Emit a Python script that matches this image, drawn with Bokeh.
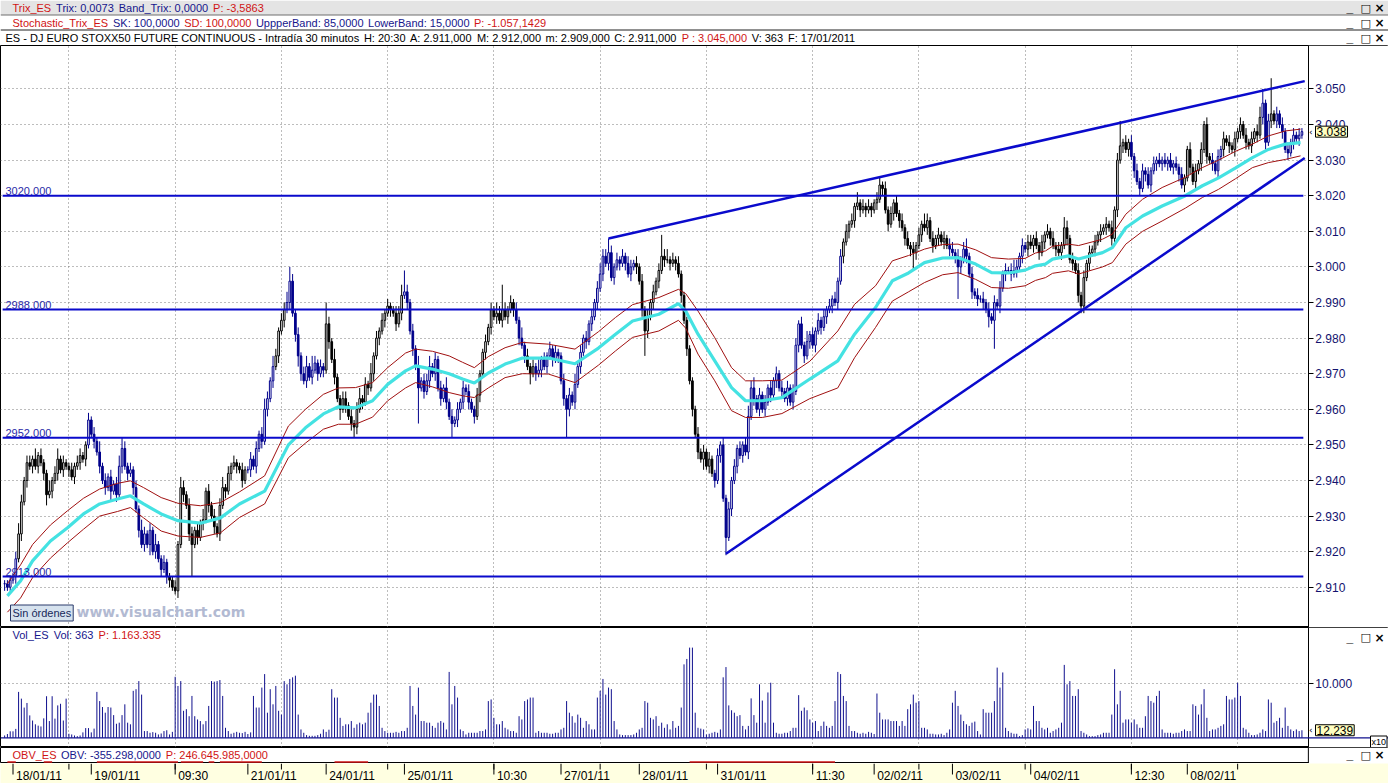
from bokeh.plotting import figure
from bokeh.models import Range1d, FixedTicker, Label, Span, ColumnDataSource, LinearAxis, BoxAnnotation
from bokeh.layouts import column
from bokeh.embed import file_html
from bokeh.resources import INLINE
from bokeh.core.properties import value

# ============================ DATA ============================
first_open = 2911
# 30-minute closes per session
close_17jan = [2911, 2910, 2912]
close_18jan = [2913, 2918, 2925, 2934, 2940, 2945, 2944, 2946, 2944, 2947, 2945, 2942, 2936, 2937,
               2940, 2942, 2946, 2943, 2945, 2944, 2943, 2941, 2944, 2945, 2947, 2946, 2950, 2957]
close_19jan = [2953, 2951, 2948, 2944, 2940, 2938, 2941, 2937, 2939, 2936, 2944, 2949, 2944, 2942,
               2943, 2938, 2932, 2926, 2922, 2925, 2922, 2926, 2920, 2922, 2918, 2915, 2917, 2913]
close_20jan = [2912, 2910, 2909, 2922, 2938, 2936, 2933, 2925, 2922, 2926, 2924, 2928, 2929, 2937,
               2933, 2930, 2927, 2925, 2933, 2938, 2937, 2942, 2944, 2945, 2944, 2943, 2940, 2943]
close_21jan = [2943, 2946, 2944, 2949, 2953, 2951, 2960, 2963, 2968, 2972, 2975, 2982, 2985, 2988,
               2990, 2996, 2987, 2981, 2975, 2970, 2968, 2972, 2969, 2971, 2973, 2970, 2972, 2971]
close_24jan = [2984, 2979, 2974, 2969, 2963, 2960, 2963, 2961, 2958, 2956, 2955, 2960, 2963, 2962,
               2967, 2966, 2970, 2975, 2980, 2982, 2985, 2987, 2989, 2988, 2987, 2984, 2987, 2992]
close_25jan = [2993, 2990, 2982, 2977, 2972, 2966, 2968, 2965, 2968, 2972, 2970, 2974, 2966, 2963,
               2966, 2962, 2958, 2956, 2957, 2960, 2962, 2966, 2965, 2962, 2960, 2958, 2964, 2970]
close_26jan = [2976, 2979, 2983, 2988, 2986, 2987, 2985, 2988, 2986, 2988, 2990, 2988, 2985, 2980,
               2978, 2975, 2972, 2970, 2972, 2970, 2971, 2974, 2972, 2975, 2977, 2974, 2976, 2975]
close_27jan = [2968, 2963, 2960, 2964, 2962, 2967, 2972, 2976, 2980, 2979, 2984, 2986, 2990, 2994,
               2998, 3003, 3001, 3004, 2997, 3000, 3002, 3001, 3003, 3001, 2998, 3000, 3001, 3000]
close_28jan = [2996, 2988, 2982, 2986, 2990, 2993, 2996, 2999, 3003, 3002, 3002, 3001, 3002, 3001,
               2998, 2992, 2985, 2977, 2968, 2960, 2953, 2948, 2946, 2948, 2944, 2946, 2942, 2940]
close_31jan = [2947, 2950, 2935, 2924, 2932, 2940, 2944, 2949, 2947, 2950, 2948, 2958, 2966, 2963,
               2960, 2964, 2960, 2962, 2966, 2964, 2968, 2970, 2966, 2965, 2963, 2966, 2962, 2965]
close_01feb = [2978, 2984, 2978, 2975, 2979, 2981, 2978, 2982, 2985, 2983, 2986, 2988, 2989, 2991,
               2990, 2996, 3003, 3007, 3010, 3012, 3013, 3017, 3018, 3016, 3017, 3016, 3017, 3016]
close_02feb = [3018, 3019, 3023, 3022, 3016, 3012, 3015, 3018, 3015, 3013, 3011, 3008, 3006, 3005,
               3004, 3006, 3009, 3012, 3011, 3013, 3008, 3006, 3008, 3009, 3007, 3008, 3006, 3005]
close_03feb = [3004, 3003, 3000, 3002, 3005, 3003, 2998, 2993, 2992, 2991, 2991, 2990, 2988, 2986,
               2985, 2990, 2989, 2994, 2998, 2999, 2999, 2998, 2999, 3000, 3003, 3006, 3005, 3007]
close_04feb = [3006, 3008, 3006, 3004, 3007, 3009, 3010, 3008, 3006, 3005, 3004, 3006, 3011, 3008,
               3002, 3001, 2999, 2992, 2989, 2997, 3001, 3004, 3005, 3007, 3009, 3010, 3011, 3012]
close_07feb = [3011, 3008, 3016, 3030, 3034, 3035, 3033, 3035, 3031, 3027, 3024, 3022, 3027, 3026,
               3023, 3027, 3029, 3030, 3029, 3030, 3029, 3030, 3028, 3029, 3028, 3026, 3023, 3025]
close_08feb = [3033, 3028, 3024, 3027, 3029, 3033, 3040, 3031, 3030, 3029, 3027, 3031, 3033, 3036,
               3035, 3034, 3033, 3036, 3038, 3040, 3037, 3035, 3034, 3036, 3038, 3037, 3042, 3046]
close_09feb = [3035, 3041, 3043, 3041, 3043, 3040, 3038, 3033, 3032, 3035, 3037, 3036, 3037, 3038]

# upper wick (points above body) per bar
upw_17jan = [1, 1, 1]
upw_18jan = [1, 2, 3, 2, 1, 2, 2, 1, 3, 1, 2, 1, 1, 3, 1, 2, 3, 1, 2, 1, 1, 2, 1, 2, 2, 1, 1, 2]
upw_19jan = [1, 2, 1, 3, 1, 2, 1, 2, 1, 2, 3, 3, 2, 1, 2, 1, 2, 1, 3, 2, 1, 2, 1, 3, 1, 1, 2, 1]
upw_20jan = [1, 1, 2, 1, 3, 2, 1, 2, 2, 1, 2, 1, 3, 1, 2, 1, 2, 1, 2, 3, 1, 2, 1, 2, 1, 1, 2, 1]
upw_21jan = [1, 2, 1, 2, 1, 2, 3, 2, 1, 3, 2, 1, 2, 2, 3, 4, 2, 1, 2, 1, 2, 3, 1, 4, 2, 1, 2, 1]
upw_24jan = [6, 2, 1, 3, 1, 1, 2, 2, 1, 2, 1, 2, 3, 1, 2, 1, 3, 1, 2, 1, 2, 1, 2, 1, 1, 2, 2, 3]
upw_25jan = [6, 2, 1, 2, 1, 3, 1, 2, 2, 3, 1, 2, 1, 2, 1, 3, 1, 2, 1, 2, 1, 2, 1, 2, 1, 1, 2, 1]
upw_26jan = [1, 2, 1, 2, 1, 3, 2, 7, 2, 1, 2, 1, 2, 1, 3, 1, 2, 1, 2, 1, 3, 1, 2, 1, 2, 1, 2, 1]
upw_27jan = [1, 2, 1, 2, 1, 3, 1, 2, 1, 2, 1, 2, 1, 2, 3, 2, 2, 4, 2, 1, 2, 1, 2, 1, 2, 2, 1, 2]
upw_28jan = [1, 2, 1, 2, 1, 2, 1, 2, 6, 2, 3, 1, 2, 1, 2, 1, 1, 1, 1, 1, 1, 2, 1, 2, 1, 2, 1, 1]
upw_31jan = [2, 1, 2, 1, 2, 1, 2, 1, 2, 1, 2, 3, 2, 3, 1, 2, 1, 2, 1, 2, 1, 2, 1, 2, 1, 2, 1, 2]
upw_01feb = [2, 1, 2, 1, 3, 1, 2, 1, 2, 1, 2, 1, 2, 1, 2, 1, 2, 1, 2, 1, 2, 1, 3, 1, 2, 1, 2, 1]
upw_02feb = [1, 2, 2, 1, 2, 1, 2, 1, 2, 1, 2, 1, 2, 1, 2, 1, 2, 1, 3, 2, 1, 2, 1, 2, 1, 2, 1, 2]
upw_03feb = [2, 1, 2, 1, 2, 3, 1, 2, 1, 2, 1, 2, 1, 2, 1, 2, 1, 2, 1, 2, 1, 2, 3, 2, 1, 2, 1, 2]
upw_04feb = [2, 1, 2, 1, 2, 1, 2, 1, 2, 1, 2, 1, 3, 2, 1, 2, 1, 2, 1, 2, 1, 2, 1, 2, 1, 2, 1, 2]
upw_07feb = [1, 2, 1, 2, 7, 1, 2, 1, 2, 1, 2, 1, 2, 1, 2, 1, 2, 1, 2, 1, 2, 1, 2, 1, 2, 1, 2, 1]
upw_08feb = [1, 2, 1, 2, 1, 2, 1, 2, 1, 2, 1, 2, 1, 2, 1, 2, 1, 2, 1, 2, 1, 2, 1, 2, 1, 2, 3, 4]
upw_09feb = [1, 2, 10, 1, 2, 1, 2, 1, 2, 1, 2, 1, 2, 1]

# lower wick (points below body) per bar
dnw_17jan = [2, 1, 1]
dnw_18jan = [1, 2, 1, 2, 1, 2, 1, 2, 1, 2, 1, 2, 3, 1, 2, 1, 2, 1, 2, 1, 2, 1, 2, 1, 2, 1, 2, 1]
dnw_19jan = [1, 2, 1, 2, 1, 2, 1, 3, 1, 2, 1, 2, 1, 2, 1, 2, 1, 2, 1, 2, 1, 3, 1, 2, 1, 2, 1, 2]
dnw_20jan = [2, 1, 1, 2, 1, 2, 1, 2, 9, 1, 2, 1, 2, 1, 2, 1, 2, 1, 2, 1, 2, 1, 2, 1, 2, 1, 2, 1]
dnw_21jan = [1, 2, 1, 2, 1, 2, 1, 2, 1, 2, 1, 2, 1, 2, 1, 2, 1, 2, 3, 2, 1, 2, 1, 2, 1, 2, 1, 2]
dnw_24jan = [1, 2, 1, 2, 1, 3, 1, 2, 1, 2, 3, 2, 1, 2, 1, 2, 1, 2, 1, 2, 1, 2, 1, 2, 1, 2, 1, 2]
dnw_25jan = [1, 2, 1, 2, 1, 10, 1, 2, 1, 2, 1, 2, 1, 2, 1, 2, 1, 4, 1, 2, 1, 2, 1, 2, 1, 2, 1, 2]
dnw_26jan = [1, 2, 1, 2, 1, 2, 1, 2, 1, 2, 1, 2, 1, 2, 1, 2, 1, 3, 1, 2, 1, 2, 1, 2, 1, 2, 1, 2]
dnw_27jan = [1, 2, 8, 2, 1, 2, 1, 2, 1, 2, 1, 2, 1, 2, 1, 2, 1, 2, 1, 2, 1, 2, 1, 2, 1, 2, 1, 2]
dnw_28jan = [1, 2, 7, 2, 1, 2, 1, 2, 1, 2, 1, 2, 1, 2, 1, 2, 1, 2, 1, 2, 1, 2, 1, 3, 1, 2, 1, 2]
dnw_31jan = [1, 2, 1, 5, 1, 2, 1, 2, 1, 2, 1, 2, 1, 2, 1, 2, 1, 2, 1, 2, 1, 2, 1, 2, 1, 2, 1, 2]
dnw_01feb = [1, 2, 1, 2, 1, 2, 1, 2, 1, 2, 1, 2, 1, 2, 1, 2, 1, 2, 1, 2, 1, 2, 1, 2, 1, 2, 1, 2]
dnw_02feb = [1, 2, 1, 2, 1, 2, 1, 2, 1, 2, 1, 2, 1, 2, 5, 2, 1, 2, 1, 2, 1, 2, 1, 2, 1, 2, 1, 2]
dnw_03feb = [1, 2, 9, 2, 1, 2, 1, 2, 1, 2, 1, 2, 1, 3, 1, 8, 1, 2, 1, 2, 1, 2, 1, 2, 1, 2, 1, 2]
dnw_04feb = [1, 2, 1, 2, 1, 2, 1, 2, 1, 2, 1, 2, 1, 2, 1, 2, 1, 2, 2, 2, 1, 2, 1, 2, 1, 2, 1, 2]
dnw_07feb = [1, 2, 1, 2, 1, 2, 1, 2, 1, 2, 1, 2, 1, 2, 1, 2, 1, 2, 1, 2, 1, 2, 1, 2, 1, 2, 1, 2]
dnw_08feb = [1, 2, 1, 2, 1, 2, 1, 2, 1, 2, 1, 2, 1, 2, 1, 2, 1, 2, 1, 2, 1, 2, 1, 2, 1, 2, 1, 2]
dnw_09feb = [2, 1, 2, 1, 2, 1, 2, 1, 2, 1, 2, 1, 2, 1]

# volume per bar
vol_17jan = [430, 700, 1200]
vol_18jan = [1200, 1650, 8500, 7250, 5600, 6450, 4150, 3200, 2500, 2250, 2100, 3600, 7700, 3100,
             7700, 3550, 6000, 6300, 3200, 7250, 750, 620, 430, 310, 430, 1000, 1800, 1800]
vol_19jan = [1000, 1700, 8500, 6800, 5700, 4650, 5700, 5600, 4200, 2600, 2800, 4200, 6200, 2800,
             2500, 8700, 9000, 10500, 8000, 1250, 1250, 930, 1050, 930, 620, 800, 1250, 1400]
vol_20jan = [620, 1100, 11300, 9600, 10500, 5000, 5300, 4000, 7750, 4000, 3400, 3100, 2500, 3100,
             5900, 10500, 10400, 10500, 10700, 7750, 1850, 1250, 750, 930, 1100, 930, 870, 1100]
vol_21jan = [700, 1000, 7750, 5600, 5600, 9300, 11800, 4650, 9000, 6200, 9600, 5000, 4300, 10500,
             9900, 10900, 11200, 11500, 4300, 1550, 930, 500, 370, 370, 370, 500, 750, 1550]
vol_24jan = [1100, 1500, 9000, 7450, 7450, 3700, 2200, 2500, 2500, 3100, 1850, 2500, 2800, 2500,
             2800, 4650, 6500, 8000, 8000, 5900, 1850, 1250, 930, 930, 930, 1100, 930, 1250]
vol_25jan = [1250, 1850, 9600, 5900, 4300, 9300, 3100, 3100, 2800, 2800, 2200, 1850, 2800, 3100,
             2800, 1550, 12200, 6200, 9600, 7450, 1550, 1250, 620, 930, 930, 930, 930, 1250]
vol_26jan = [1250, 1550, 6800, 7100, 3700, 2500, 2500, 3100, 1850, 1550, 1250, 1250, 930, 4000,
             3400, 6800, 7100, 7450, 7450, 930, 1250, 930, 930, 930, 750, 750, 930, 930]
vol_27jan = [1550, 1850, 6800, 4650, 4000, 2800, 4300, 3700, 1850, 3100, 2500, 1550, 1550, 7450,
             8700, 10900, 8000, 9300, 9000, 3100, 1550, 620, 500, 500, 500, 500, 620, 930]
vol_28jan = [1550, 1850, 6800, 6500, 3700, 3400, 4000, 2200, 2800, 1850, 2500, 1550, 3100, 1850,
             2200, 5600, 13600, 14600, 16700, 16700, 4650, 1850, 1700, 1550, 620, 750, 930, 1100]
vol_31jan = [930, 1550, 11200, 13100, 6000, 5100, 4650, 4000, 4200, 2200, 1550, 2200, 7300, 4200,
             2800, 9900, 6900, 2800, 8400, 10200, 2800, 930, 750, 750, 930, 930, 1250, 1850]
vol_01feb = [1850, 7900, 5000, 5600, 5100, 3400, 2800, 3100, 1250, 2200, 3000, 2200, 1850, 2200,
             6800, 12200, 11800, 7750, 6800, 2200, 1250, 1250, 930, 750, 930, 750, 1100, 930]
vol_02feb = [700, 8200, 4650, 3400, 3400, 3400, 3100, 3100, 3100, 2200, 3100, 2200, 5300, 6200,
             8000, 6500, 6800, 1850, 1850, 1550, 750, 750, 620, 620, 750, 500, 930, 1550]
vol_03feb = [6500, 8700, 5900, 4300, 3100, 2500, 2200, 2800, 3000, 1250, 620, 5300, 4650, 4650,
             4650, 6800, 13000, 9300, 12100, 1850, 1250, 930, 750, 750, 310, 500, 1550, 1750]
vol_04feb = [1550, 5900, 3100, 3100, 1850, 1550, 1850, 930, 1250, 1550, 1850, 2800, 13500, 9900,
             10500, 7750, 7750, 9000, 1250, 930, 620, 310, 310, 310, 500, 620, 930, 930]
vol_07feb = [930, 4300, 12700, 6200, 8700, 2800, 3400, 3400, 2800, 3400, 2500, 1850, 1850, 4000,
             7750, 6800, 6500, 7750, 8700, 1550, 930, 930, 930, 750, 930, 930, 1250, 1550]
vol_08feb = [1250, 1250, 6200, 5900, 4300, 6200, 9000, 3700, 1250, 1550, 1550, 1850, 2200, 2500,
             7750, 7100, 7100, 7450, 10200, 7750, 1850, 1550, 930, 500, 500, 620, 930, 1550]
vol_09feb = [1250, 7100, 6500, 2800, 3100, 3700, 1850, 5600, 2200, 1550, 1250, 1550, 1250, 1400]

# bar-index runs drawn in navy (indicator state), others black
navy_runs = [(0, 4), (30, 58), (87, 96), (101, 114), (143, 168), (183, 186), (190, 225),
             (254, 299), (338, 365), (403, 421), (432, 435), (450, 452), (455, 464)]

# moving average (cyan) and its envelope (dark red), read at bar positions
ma_bars = [1, 5.7, 10, 16.4, 22.5, 28.2, 34, 40.4, 45, 49.7, 56, 62, 70, 77.2, 84, 93, 101.5, 107.6,
           114, 119.4, 125.5, 131.6, 137, 143.4, 147, 153, 159, 163.8, 168, 173, 179, 185.2, 194.5,
           204, 212.4, 218.5, 224.6, 234, 241, 243.6, 248, 254, 260, 265, 271, 278, 288, 298, 304,
           311.5, 317.5, 323.3, 329, 335.5, 341, 347.3, 353, 359, 365, 368.7, 372.3, 374.8, 380.5,
           384.1, 392.7, 396.2, 401, 407, 414, 422.3, 428.4, 434.2, 440.3, 446.3, 452, 458.1, 463.5]
ma_mid = [2907.6, 2911.8, 2917.4, 2923.0, 2926.7, 2930.6, 2933.4, 2934.8, 2935.7, 2933.4,
          2930.6, 2928.7, 2928.0, 2929.5, 2933.4, 2937.0, 2950.0, 2954.8, 2958.7, 2960.7,
          2960.4, 2962.4, 2967.0, 2970.8, 2972.2, 2971.3, 2970.0, 2968.5, 2967.4, 2970.2,
          2972.7, 2974.4, 2974.4, 2972.8, 2977.2, 2981.1, 2984.8, 2986.7, 2989.7, 2987.6,
          2981.1, 2973.6, 2966.1, 2962.4, 2962.4, 2963.3, 2968.5, 2973.6, 2981.1, 2988.6,
          2996.1, 2998.3, 3001.2, 3002.5, 3002.6, 3000.8, 2998.4, 2998.3, 2999.1, 3000.3,
          3000.8, 3002.2, 3003.1, 3002.2, 3004.0, 3005.4, 3011.0, 3014.3, 3017.1, 3020.0,
          3022.8, 3025.0, 3027.8, 3030.7, 3033.0, 3034.5, 3034.9]
ma_upper = [2911.0, 2916.3, 2922.0, 2927.5, 2931.5, 2935.0, 2937.6, 2939.2, 2939.9, 2938.0,
            2935.2, 2933.6, 2932.9, 2933.8, 2936.8, 2941.3, 2955.3, 2960.0, 2964.2, 2966.0,
            2966.1, 2967.5, 2971.7, 2975.8, 2976.9, 2976.3, 2975.0, 2973.2, 2971.7, 2974.8,
            2977.3, 2978.8, 2978.3, 2976.9, 2981.8, 2985.8, 2989.4, 2991.4, 2993.7, 2992.5,
            2987.6, 2980.1, 2971.7, 2968.0, 2968.0, 2968.2, 2973.5, 2982.0, 2989.5, 2994.7,
            3001.7, 3003.2, 3005.0, 3006.3, 3006.4, 3004.8, 3002.6, 3002.2, 3002.4, 3003.9,
            3004.5, 3005.8, 3006.4, 3006.0, 3007.8, 3009.2, 3014.8, 3019.0, 3022.3, 3025.2,
            3027.9, 3030.0, 3032.5, 3034.5, 3036.8, 3038.2, 3038.7]
ma_lower = [2903.0, 2907.0, 2912.7, 2918.2, 2922.5, 2926.3, 2930.0, 2931.3, 2932.4, 2929.5,
            2925.8, 2924.4, 2924.0, 2925.3, 2929.6, 2933.4, 2946.4, 2950.5, 2954.4, 2955.8,
            2955.8, 2957.8, 2962.4, 2966.0, 2967.5, 2966.3, 2964.7, 2963.8, 2963.3, 2966.0,
            2968.9, 2970.0, 2969.9, 2967.5, 2972.4, 2976.4, 2980.2, 2982.0, 2985.0, 2982.8,
            2975.5, 2968.0, 2959.6, 2957.7, 2957.7, 2958.8, 2963.0, 2966.0, 2974.5, 2983.0,
            2990.4, 2993.0, 2995.6, 2997.8, 2998.4, 2996.5, 2994.2, 2994.0, 2994.7, 2996.2,
            2997.0, 2998.2, 2998.9, 2998.0, 3000.0, 3001.2, 3006.4, 3010.0, 3012.9, 3016.5,
            3019.5, 3021.8, 3024.8, 3027.9, 3029.3, 3030.2, 3031.2]

levels = [3020, 2988, 2952, 2913]
trend_up_bars = [216, 465]
trend_up_px = [3008.0, 3052.2]
trend_lo_bars = [258, 465]
trend_lo_px = [2919.4, 3030.6]

obv_runs = [(1, 4), (14, 17), (33, 62), (63, 71), (73, 75), (77, 92), (118, 130), (245, 297)]

price_ticks = [2910, 2920, 2930, 2940, 2950, 2960, 2970, 2980, 2990, 3000, 3010, 3020, 3030, 3040, 3050]
price_tick_labels = ["2.910", "2.920", "2.930", "2.940", "2.950", "2.960", "2.970", "2.980", "2.990",
                     "3.000", "3.010", "3.020", "3.030", "3.040", "3.050"]
vol_ticks = [10000]
vol_tick_labels = ["10.000"]
grid_bars = [23, 61, 99, 137, 175, 213, 251, 289, 327, 365, 403, 441]
time_tick_bars = [3, 31, 61, 87, 115, 143, 175, 199, 227, 255, 289, 311, 339, 367, 403, 423]
time_tick_labels = ["18/01/11", "19/01/11", "09:30", "21/01/11", "24/01/11", "25/01/11", "10:30",
                    "27/01/11", "28/01/11", "31/01/11", "11:30", "02/02/11", "03/02/11", "04/02/11",
                    "12:30", "08/02/11"]
last_price_tag = "3.038"
last_vol_tag = "12.239"

RED = "#D01414"
NAVY = "#16168C"
hdr_row1 = [("Trix_ES", RED), ("Trix: 0,0073", NAVY), ("Band_Trix: 0,0000", NAVY), ("P: -3,5863", RED)]
hdr_row2 = [("Stochastic_Trix_ES", RED), ("SK: 100,0000", NAVY), ("SD: 100,0000", RED),
            ("UppperBand: 85,0000", NAVY), ("LowerBand: 15,0000", NAVY), ("P: -1.057,1429", RED)]
hdr_row3 = [("ES - DJ EURO STOXX50 FUTURE CONTINUOUS - Intradía 30 minutos", "black"),
            ("H: 20:30", "black"), ("A: 2.911,000", "black"), ("M: 2.912,000", "black"),
            ("m: 2.909,000", "black"), ("C: 2.911,000", "black"), ("P : 3.045,000", RED),
            ("V: 363", "black"), ("F: 17/01/2011", "black")]
hdr_vol = [("Vol_ES", NAVY), ("Vol: 363", NAVY), ("P: 1.163.335", RED)]
hdr_obv = [("OBV_ES", RED), ("OBV: -355.298,0000", NAVY), ("P: 246.645.985,0000", RED)]

# ============================ BUILD ============================
W = 1388
FONT = "Liberation Sans"
AXIS_X = 466.3          # bar coordinate of the right price axis line
XR = Range1d(-1.471, 494.96)

closes = (close_17jan + close_18jan + close_19jan + close_20jan + close_21jan + close_24jan +
          close_25jan + close_26jan + close_27jan + close_28jan + close_31jan + close_01feb +
          close_02feb + close_03feb + close_04feb + close_07feb + close_08feb + close_09feb)
upw = (upw_17jan + upw_18jan + upw_19jan + upw_20jan + upw_21jan + upw_24jan + upw_25jan + upw_26jan +
       upw_27jan + upw_28jan + upw_31jan + upw_01feb + upw_02feb + upw_03feb + upw_04feb + upw_07feb +
       upw_08feb + upw_09feb)
dnw = (dnw_17jan + dnw_18jan + dnw_19jan + dnw_20jan + dnw_21jan + dnw_24jan + dnw_25jan + dnw_26jan +
       dnw_27jan + dnw_28jan + dnw_31jan + dnw_01feb + dnw_02feb + dnw_03feb + dnw_04feb + dnw_07feb +
       dnw_08feb + dnw_09feb)
volumes = (vol_17jan + vol_18jan + vol_19jan + vol_20jan + vol_21jan + vol_24jan + vol_25jan +
           vol_26jan + vol_27jan + vol_28jan + vol_31jan + vol_01feb + vol_02feb + vol_03feb +
           vol_04feb + vol_07feb + vol_08feb + vol_09feb)
n = len(closes)
idx = list(range(n))
opens = [first_open] + closes[:-1]
tops = [max(o, c) for o, c in zip(opens, closes)]
bots = [min(o, c) for o, c in zip(opens, closes)]
highs = [t + u for t, u in zip(tops, upw)]
lows = [b - d for b, d in zip(bots, dnw)]
navy = [any(a <= i <= b for a, b in navy_runs) for i in idx]
lcol = ["#00008B" if nv else "#000000" for nv in navy]
fcol = ["#FFFFFF" if c >= o else lc for o, c, lc in zip(opens, closes, lcol)]

src = ColumnDataSource(dict(x=idx, top=tops, bot=bots, hi=highs, lo=lows, lc=lcol, fc=fcol,
                            vol=volumes, zero=[0] * n))

_W = {}
for chars, w in [("ijl", 222), (" ,.:;/!fItí'", 278), ("-r()", 333), ("cksvxyzJ", 500),
                 ("0123456789abdeghnopqu_L", 556), ("FTZ", 611), ("ABEKPSVXY", 667),
                 ("CDHNRUw", 722), ("GOQ", 778), ("Mm", 833), ("W", 944)]:
    for ch in chars:
        _W[ch] = w


def tw(s, size=11):
    return sum(_W.get(ch, 556) for ch in s) * size / 1000.0


def seg_labels(target, segs, x0, y, units):
    x = x0
    for text, color in segs:
        target.add_layout(Label(x=x, y=y, x_units=units, y_units=units, text=text, text_color=color,
                                text_font=FONT, text_font_size="11px", text_baseline="middle"))
        x += tw(text) + 4.5


def buttons(target, y, units):
    for x, ch, f, s in zip([1346, 1360, 1374], ["_", "□", "×"], [FONT, "DejaVu Sans", "DejaVu Sans"],
                           ["12px", "11px", "12px"]):
        target.add_layout(Label(x=x, y=y, x_units=units, y_units=units, text=ch, text_font=f,
                                text_font_size=s, text_font_style="bold", text_color="black",
                                text_baseline="middle"))


def style_axis(ax):
    ax.major_tick_in = 0
    ax.major_tick_out = 5
    ax.minor_tick_in = 0
    ax.minor_tick_out = 0
    ax.axis_line_color = "black"
    ax.major_tick_line_color = "black"
    ax.major_label_text_font = FONT
    ax.major_label_text_font_size = "12px"
    ax.major_label_text_color = "#12126E"
    ax.major_label_standoff = 2


def panel(height, yr, ticks=None, tick_labels=None):
    f = figure(width=W, height=height, x_range=XR, y_range=yr, output_backend="svg",
               toolbar_location=None, x_axis_location=None, y_axis_location=None,
               min_border_left=0, min_border_right=0, min_border_top=0, min_border_bottom=0,
               background_fill_color="white", border_fill_color="white")
    f.outline_line_color = "black"
    f.xgrid.ticker = FixedTicker(ticks=grid_bars)
    f.xgrid.grid_line_color = "#7A7A7A"
    f.xgrid.grid_line_dash = "1 3"
    if ticks is not None:
        f.ygrid.ticker = FixedTicker(ticks=ticks)
        f.ygrid.grid_line_color = "#7A7A7A"
        f.ygrid.grid_line_dash = "1 3"
        ax = LinearAxis(fixed_location=AXIS_X, ticker=FixedTicker(ticks=ticks),
                        major_label_overrides={t: l for t, l in zip(ticks, tick_labels)})
        style_axis(ax)
        f.add_layout(ax, "right")
    else:
        f.ygrid.visible = False
    # blank area right of the price axis (covers grid lines there)
    f.add_layout(BoxAnnotation(left=AXIS_X, fill_color="white", fill_alpha=1.0, line_color=None,
                               level="underlay"))
    return f


# ---------------- header ----------------
h = figure(width=W, height=45, x_range=Range1d(0, 1388), y_range=Range1d(0, 45), output_backend="svg",
           toolbar_location=None, x_axis_location=None, y_axis_location=None, min_border=0,
           background_fill_color="white", border_fill_color="white")
h.grid.visible = False
h.outline_line_color = None
h.quad(left=[0], right=[1388], bottom=[45 - 14.5], top=[45], fill_color="#E4E4E4", line_color=None)
for yy, cc in [(14.5, "#6E6E6E"), (29.5, "#202020")]:
    h.add_layout(Span(location=45 - yy, dimension="width", line_color=cc, line_width=1))
seg_labels(h, hdr_row1, 12, 45 - 7.5, "data")
seg_labels(h, hdr_row2, 12, 45 - 22.5, "data")
seg_labels(h, hdr_row3, 5, 45 - 37.5, "data")
for yy in [7.5, 22.5, 37.5]:
    buttons(h, 45 - yy, "data")

# ---------------- price panel (ref y 45..627) ----------------
p = panel(582, Range1d(2898.7, 3062.2), price_ticks, price_tick_labels)
p.segment(x0="x", y0="lo", x1="x", y1="hi", line_color="lc", line_width=1, source=src)
p.vbar(x="x", width=0.6, top="top", bottom="bot", fill_color="fc", line_color="lc", line_width=1,
       source=src)
p.line(ma_bars, ma_upper, line_color="#A01010", line_width=1)
p.line(ma_bars, ma_lower, line_color="#A01010", line_width=1)
p.line(ma_bars, ma_mid, line_color="#44E2E2", line_width=3.2)

lvl = ColumnDataSource(dict(y=levels, x0=[idx[0] - 0.7] * len(levels), x1=[idx[-1] + 0.5] * len(levels)))
p.segment(x0="x0", y0="y", x1="x1", y1="y", line_color="#0A0ACC", line_width=2, source=lvl)
p.line(trend_up_bars, trend_up_px, line_color="#0A0ACC", line_width=2.5)
p.line(trend_lo_bars, trend_lo_px, line_color="#0A0ACC", line_width=2.5)
for lv in levels:
    p.add_layout(Label(x=5, x_units="screen", y=lv, y_units="data", text=f"{lv}.000",
                       text_font=FONT, text_font_size="11px", text_color="#2A2AA8",
                       text_baseline="bottom", y_offset=1))

p.add_layout(Label(x=1315, x_units="screen", y=closes[-1], y_units="data", text=last_price_tag,
                   text_font=FONT, text_font_size="12px", text_color="black", text_baseline="middle",
                   background_fill_color="#FFFFC0", border_line_color="black", padding=1))
p.add_layout(Label(x=1308.5, x_units="screen", y=closes[-1], y_units="data", text="‹",
                   text_font="DejaVu Sans", text_font_size="9px", text_color="black",
                   text_baseline="middle"))
p.add_layout(Label(x=10, y=627 - 612.5, x_units="screen", y_units="screen",
                   text="Sin órdenes", text_font=FONT, text_font_size="11px", text_color="#18285A",
                   text_baseline="middle", background_fill_color="#D6E2EE",
                   border_line_color="#2A3A6A", padding=2))
p.add_layout(Label(x=76, y=627 - 611, x_units="screen", y_units="screen",
                   text="www.visualchart.com", text_font="DejaVu Sans", text_font_size="14px",
                   text_font_style="bold", text_color="#B2BAD2", text_baseline="middle"))

# ---------------- volume panel (ref y 627..747) ----------------
v = panel(120, Range1d(-1796, 20426), vol_ticks, vol_tick_labels)
v.segment(x0="x", y0="zero", x1="x", y1="vol", line_color="#10108E", line_width=1, source=src)
v.add_layout(Span(location=0, dimension="width", line_color="#10108E", line_width=1.3))
seg_labels(v, hdr_vol, 12, 747 - 634, "screen")
buttons(v, 747 - 637, "screen")
v.add_layout(Label(x=1315, x_units="screen", y=volumes[-1], y_units="data", text=last_vol_tag,
                   text_font=FONT, text_font_size="12px", text_color="black", text_baseline="middle",
                   background_fill_color="#FFFFC0", border_line_color="black", padding=1))
v.add_layout(Label(x=1308.5, x_units="screen", y=volumes[-1], y_units="data", text="‹",
                   text_font="DejaVu Sans", text_font_size="9px", text_color="black",
                   text_baseline="middle"))
v.add_layout(Label(x=1370, y=747 - 741.5, x_units="screen", y_units="screen", text="x10",
                   text_font=FONT, text_font_size="9px", text_color="black", text_baseline="middle",
                   background_fill_color="white", border_line_color="black", padding=1))

# ---------------- OBV panel (ref y 747..763) ----------------
o = panel(16, Range1d(0, 1))
o.xgrid.visible = False
o.add_layout(Span(location=AXIS_X, dimension="height", line_color="black", line_width=1))
obv_src = ColumnDataSource(dict(x0=[a for a, b in obv_runs], x1=[b for a, b in obv_runs],
                                y=[0.1] * len(obv_runs)))
o.segment(x0="x0", y0="y", x1="x1", y1="y", line_color="#D01414", line_width=1.5, source=obv_src)
seg_labels(o, hdr_obv, 12, 763 - 754.5, "screen")
buttons(o, 763 - 754.5, "screen")

# ---------------- time axis strip (ref y 763..783) ----------------
a = figure(width=W, height=20, x_range=XR, y_range=Range1d(0, 1), output_backend="svg",
           toolbar_location=None, x_axis_location=None, y_axis_location=None,
           min_border_left=0, min_border_right=0, min_border_top=0, min_border_bottom=0,
           background_fill_color="#FFFFE1", border_fill_color="#FFFFE1")
a.grid.visible = False
a.outline_line_color = None
tick_src = ColumnDataSource(dict(x=time_tick_bars, lab=time_tick_labels, y0=[1.0] * len(time_tick_bars),
                                 y1=[0.45] * len(time_tick_bars), ty=[0.04] * len(time_tick_bars)))
grid_src = ColumnDataSource(dict(x=grid_bars, y0=[1.0] * len(grid_bars), y1=[0.7] * len(grid_bars)))
a.segment(x0="x", y0="y0", x1="x", y1="y1", line_color="black", line_width=1, source=grid_src)
a.segment(x0="x", y0="y0", x1="x", y1="y1", line_color="black", line_width=1, source=tick_src)
a.text(x="x", y="ty", text="lab", x_offset=3, text_baseline="bottom", text_font=value(FONT),
       text_font_size=value("12px"), text_color="black", source=tick_src)

layout = column(h, p, v, o, a, spacing=0)
open("out.html", "w").write(file_html(layout, INLINE, title="ES - DJ EURO STOXX50"))
